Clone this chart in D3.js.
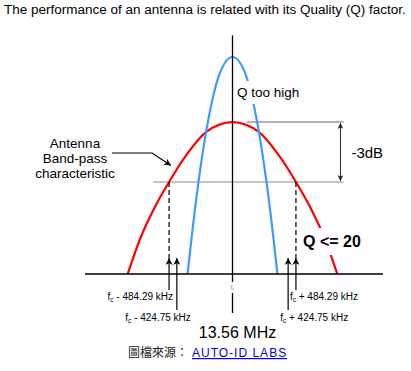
<!DOCTYPE html>
<html>
<head>
<meta charset="utf-8">
<script src="https://cdn.jsdelivr.net/npm/d3@7"></script>
<style>
body { margin: 0; background: #fff; }
svg { display: block; font-family: "Liberation Sans", Arial, sans-serif; }
</style>
</head>
<body>
<svg id="chart" width="411" height="371"></svg>
<script>
// offset from the centre frequency in kHz, amplitude relative to the narrow (high Q) peak
var redCurve = [[-800, 0], [-700, 0.17], [-600, 0.30], [-484.29, 0.424], [-350, 0.55], [-200, 0.655], [0, 0.70],
                [200, 0.655], [350, 0.55], [484.29, 0.424], [600, 0.30], [700, 0.17], [800, 0]];
var blueCurve = [[-343, 0], [-280, 0.33], [-200, 0.66], [-100, 0.92], [0, 1], [100, 0.92], [200, 0.66], [280, 0.33], [343, 0]];
var bandEdges = [-484.29, -424.75, 424.75, 484.29];
var edgeLabels = [" - 484.29 kHz", " - 424.75 kHz", " + 424.75 kHz", " + 484.29 kHz"];
var peakLevel = 0.70;
var halfPowerLevel = 0.424;
var centerLabel = "13.56 MHz";

var svg = d3.select("#chart");

var x = d3.scaleLinear().domain([-1000, 1000]).range([101.5, 363.5]);
var y = d3.scaleLinear().domain([0, 1]).range([274, 57]);
var baseY = y(0);

var defs = svg.append("defs");
function arrowMarker(id, color, w, h) {
    defs.append("marker")
        .attr("id", id)
        .attr("viewBox", "0 0 10 10")
        .attr("refX", 10).attr("refY", 5)
        .attr("markerUnits", "userSpaceOnUse")
        .attr("markerWidth", w).attr("markerHeight", h)
        .attr("orient", "auto-start-reverse")
        .append("path")
        .attr("d", "M0,0 L10,5 L0,10 L3,5 z")
        .attr("fill", color);
}
arrowMarker("arr", "#000", 8, 7);
arrowMarker("arrSmall", "#222", 7, 6);

// title, sized to span the page like the original
var title = svg.append("text")
    .attr("x", 4).attr("y", 14)
    .attr("font-size", 14)
    .attr("fill", "#000")
    .text("The performance of an antenna is related with its Quality (Q) factor.");
var tw = title.node().getComputedTextLength();
title.attr("font-size", 14 * 402 / tw);

var line = d3.line()
    .x(function (d) { return x(d[0]); })
    .y(function (d) { return y(d[1]); })
    .curve(d3.curveMonotoneX);

// gray -3dB guide lines
svg.append("line")
    .attr("x1", x(-603)).attr("x2", x(847))
    .attr("y1", y(halfPowerLevel)).attr("y2", y(halfPowerLevel))
    .attr("stroke", "#c4c4c4").attr("stroke-width", 2);
svg.append("line")
    .attr("x1", x(110)).attr("x2", x(847))
    .attr("y1", y(peakLevel)).attr("y2", y(peakLevel))
    .attr("stroke", "#9a9a9a").attr("stroke-width", 1.5);

svg.append("path").datum(redCurve)
    .attr("d", line)
    .attr("fill", "none").attr("stroke", "#ff0000").attr("stroke-width", 2.2);
svg.append("path").datum(blueCurve)
    .attr("d", line)
    .attr("fill", "none").attr("stroke", "#3d9bff").attr("stroke-width", 2.2);

// labels sitting on a white patch that cuts the curves
function haloText(tx, ty, str, size, weight, pad) {
    var g = svg.append("g");
    var rect = g.append("rect").attr("fill", "#fff");
    var t = g.append("text")
        .attr("x", tx).attr("y", ty)
        .attr("font-size", size)
        .attr("font-weight", weight)
        .text(str);
    var b = t.node().getBBox();
    rect.attr("x", b.x - 1).attr("y", b.y - pad)
        .attr("width", b.width + 3).attr("height", b.height + pad * 2);
}
haloText(237, 97, "Q too high", 13.5, "normal", 4);
haloText(303, 247, "Q <= 20", 16, "bold", 5);

// -3dB double arrow
var dbX = x(824);
svg.append("line")
    .attr("x1", dbX).attr("x2", dbX)
    .attr("y1", y(peakLevel) + 1).attr("y2", y(halfPowerLevel) - 1)
    .attr("stroke", "#222").attr("stroke-width", 1)
    .attr("marker-start", "url(#arrSmall)")
    .attr("marker-end", "url(#arrSmall)");
svg.append("text")
    .attr("x", dbX + 11).attr("y", (y(peakLevel) + y(halfPowerLevel)) / 2 + 6)
    .attr("font-size", 15)
    .text("-3dB");

// axes
svg.append("line")
    .attr("x1", x(-1126)).attr("x2", x(1149))
    .attr("y1", baseY).attr("y2", baseY)
    .attr("stroke", "#000").attr("stroke-width", 1.3);
svg.append("line")
    .attr("x1", x(0)).attr("x2", x(0))
    .attr("y1", y(1.1)).attr("y2", baseY + 8)
    .attr("stroke", "#000").attr("stroke-width", 1.3);
svg.append("line")
    .attr("x1", x(0)).attr("x2", x(0))
    .attr("y1", baseY + 19).attr("y2", baseY + 39)
    .attr("stroke", "#000").attr("stroke-width", 1.3);
var fcMid = svg.append("text")
    .attr("x", x(0)).attr("y", baseY + 15)
    .attr("text-anchor", "middle")
    .attr("font-size", 6).attr("fill", "#777");
fcMid.append("tspan").text("f");
fcMid.append("tspan").attr("font-size", 4).attr("dy", 1).text("c");

// band edge markers
var edges = svg.selectAll("g.edge")
    .data(bandEdges)
    .enter().append("g")
    .attr("class", "edge");

edges.filter(function (d) { return Math.abs(d) > 450; })
    .append("line")
    .attr("x1", function (d) { return x(d); })
    .attr("x2", function (d) { return x(d); })
    .attr("y1", y(halfPowerLevel))
    .attr("y2", baseY - 16)
    .attr("stroke", "#000").attr("stroke-width", 1.2)
    .attr("stroke-dasharray", "5,3");

edges.append("line")
    .attr("x1", function (d) { return x(d); })
    .attr("x2", function (d) { return x(d); })
    .attr("y1", function (d) { return baseY + (Math.abs(d) > 450 ? 16 : 36); })
    .attr("y2", baseY - 16)
    .attr("stroke", "#000").attr("stroke-width", 1.2)
    .attr("marker-end", "url(#arr)");

var edgeText = edges.append("text")
    .attr("x", function (d) {
        var outer = Math.abs(d) > 450;
        if (d < 0) return x(d) + (outer ? 4 : 14);
        return x(d) - (outer ? 6 : 8);
    })
    .attr("y", function (d) { return baseY + (Math.abs(d) > 450 ? 26 : 47); })
    .attr("text-anchor", function (d) { return d < 0 ? "end" : "start"; })
    .attr("font-size", 10);
edgeText.append("tspan").text("f");
edgeText.append("tspan").attr("font-size", 6.5).attr("dy", 2).text("c");
edgeText.append("tspan").attr("dy", -2).text(function (d, i) { return edgeLabels[i]; });

svg.append("text")
    .attr("x", x(0) + 5).attr("y", 338)
    .attr("text-anchor", "middle")
    .attr("font-size", 16)
    .text(centerLabel);

// annotation for the wide curve
var annot = svg.append("text")
    .attr("text-anchor", "middle")
    .attr("font-size", 13.5);
["Antenna", "Band-pass", "characteristic"].forEach(function (s, i) {
    annot.append("tspan").attr("x", 75).attr("y", 148 + i * 15).text(s);
});
svg.append("polyline")
    .attr("points", [[112, 153], [152, 153], [x(-470), y(0.50)]].join(" "))
    .attr("fill", "none").attr("stroke", "#000").attr("stroke-width", 1.2)
    .attr("marker-end", "url(#arr)");

// source caption
svg.append("text")
    .attr("x", 128).attr("y", 357)
    .attr("font-size", 12)
    .attr("font-family", "'Noto Sans CJK TC', sans-serif")
    .attr("fill", "#222")
    .text("圖檔來源：");
svg.append("text")
    .attr("x", 192).attr("y", 357)
    .attr("font-size", 12)
    .attr("letter-spacing", 1)
    .attr("fill", "#0000ee")
    .attr("text-decoration", "underline")
    .text("AUTO-ID LABS");
</script>
</body>
</html>
